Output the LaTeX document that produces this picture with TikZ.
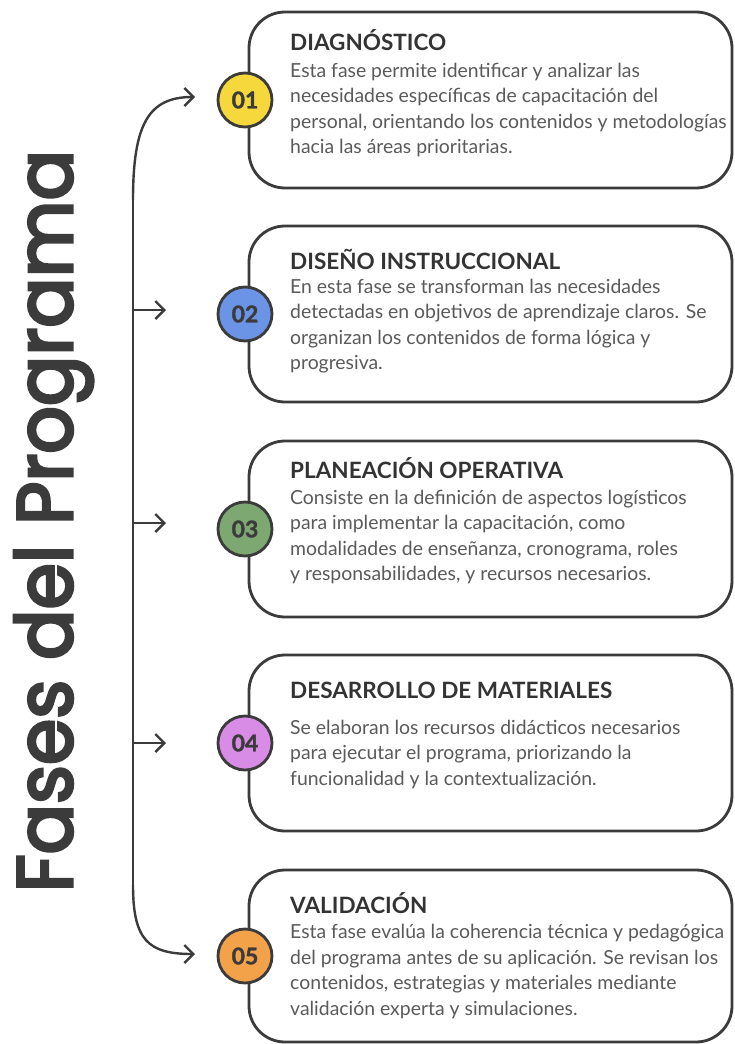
\documentclass[tikz,border=0pt]{standalone}
\usepackage{fontspec}
\usepackage{graphicx}
\setmainfont{Lato}
\newfontfamily\bigfont{Poppins}[FakeBold=4]
\newfontfamily\numfont{Lato}[BoldFeatures={FakeBold=1.5}]
\usetikzlibrary{arrows.meta}
\definecolor{ink}{HTML}{3B3B3B}
\definecolor{titlecol}{HTML}{333333}
\definecolor{bodycol}{HTML}{5A5A5A}
\definecolor{cyellow}{HTML}{F6D83C}
\definecolor{cblue}{HTML}{6B93E6}
\definecolor{cgreen}{HTML}{7EA872}
\definecolor{cpurple}{HTML}{D98CE6}
\definecolor{corange}{HTML}{F4A24A}
\tikzset{
  phasebox/.style={draw=ink, line width=2.8pt, rounded corners=36pt, rectangle,
    minimum width=483pt, inner sep=0pt, fill=white},
  numcircle/.style={circle, draw=ink, line width=2.8pt, minimum size=54pt, inner sep=0pt,
    font=\numfont\fontsize{23}{23}\selectfont\bfseries, text=ink},
  titletext/.style={anchor=base west, inner sep=0pt, text=titlecol,
    font=\fontsize{22.5}{24}\selectfont\bfseries},
  bodytext/.style={anchor=north west, inner sep=0pt, text=bodycol, align=left,
    font=\fontsize{19.4}{25.5}\selectfont},
  conn/.style={draw=ink, line width=2.4pt, line cap=round},
  tip/.style={-{Straight Barb[length=9pt,width=18pt,line width=2.4pt]}}
}
% #1 id, #2 top, #3 height, #4 colour, #5 title, #6 body, #7 title offset, #8 body offset
\newcommand\Phase[8]{%
  \node[phasebox, minimum height=#3pt] (p#1) at (490.5,{#2+#3/2}) {};
  \node[numcircle, fill=#4] (c#1) at (245,{#2+#3/2}) {0#1};
  \node[titletext] (t#1) at (290,{#2+#7}) {#5};
  \node[bodytext] (b#1) at (290,{#2+#8}) {#6};
}
\begin{document}
\begin{tikzpicture}[x=1pt,y=-1pt]
\useasboundingbox (0,0) rectangle (734,1044);
\fill[white] (0,0) rectangle (734,1044);

\Phase{1}{12}{176}{cyellow}{DIAGNÓSTICO}{Esta fase permite identificar y analizar las\\necesidades específicas de capacitación del\\personal, orientando los contenidos y metodologías\\hacia las áreas prioritarias.}{38}{51}
\Phase{2}{226}{176}{cblue}{DISEÑO INSTRUCCIONAL}{En esta fase se transforman las necesidades\\detectadas en objetivos de aprendizaje claros. Se\\organizan los contenidos de forma lógica y\\progresiva.}{43}{53}
\Phase{3}{441}{176}{cgreen}{PLANEACIÓN OPERATIVA}{Consiste en la definición de aspectos logísticos\\para implementar la capacitación, como\\modalidades de enseñanza, cronograma, roles\\y responsabilidades, y recursos necesarios.}{37}{49}
\Phase{4}{655}{176}{cpurple}{DESARROLLO DE MATERIALES}{Se elaboran los recursos didácticos necesarios\\para ejecutar el programa, priorizando la\\funcionalidad y la contextualización.}{43}{65}
\Phase{5}{870}{172}{corange}{VALIDACIÓN}{Esta fase evalúa la coherencia técnica y pedagógica\\del programa antes de su aplicación. Se revisan los\\contenidos, estrategias y materiales mediante\\validación experta y simulaciones.}{43}{54}

\node[rotate=90, anchor=base, inner sep=0pt, text=ink, font=\bigfont\fontsize{78}{78}\selectfont] (title) at (72,521) {\resizebox{742pt}{\height}{Fases del Programa}};

\coordinate (top) at (133,200);
\coordinate (bot) at (133,885);
\coordinate (a1) at (195,97);
\coordinate (a5) at (195,954);
\draw[conn] (top) -- (bot);
\draw[conn, tip] (top) .. controls (133,125) and (148,97) .. (a1);
\draw[conn, tip] (bot) .. controls (133,940) and (148,954) .. (a5);
\foreach \i/\y in {2/310,3/523,4/743}{
  \coordinate (s\i) at (133,\y);
  \coordinate (e\i) at (166,\y);
  \draw[conn, tip] (s\i) -- (e\i);
}
\end{tikzpicture}
\end{document}
